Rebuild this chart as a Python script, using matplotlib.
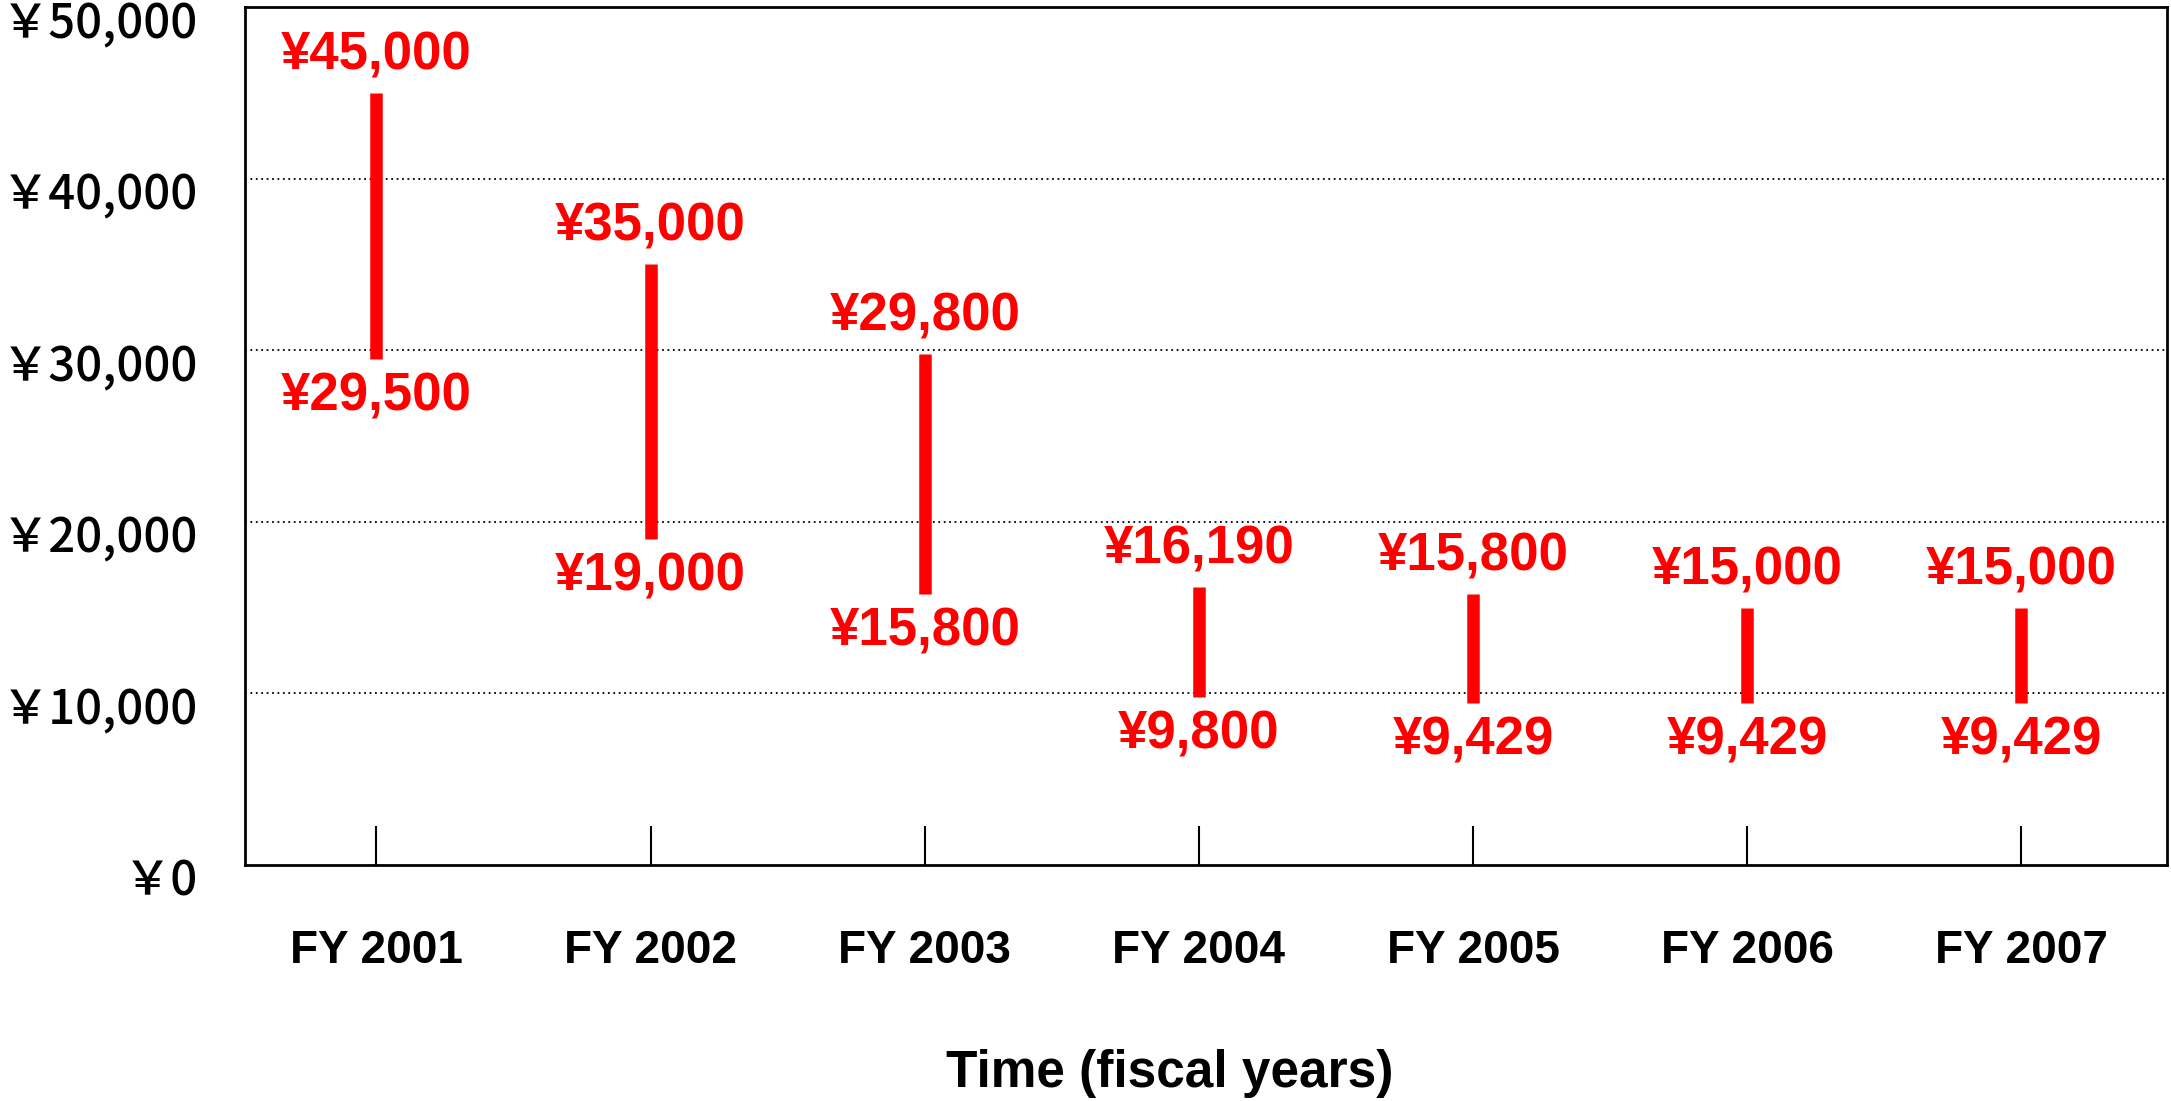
import matplotlib
matplotlib.use("Agg")
import matplotlib.pyplot as plt
from matplotlib.transforms import ScaledTranslation

# price range per fiscal year (yen)
years = ["FY 2001", "FY 2002", "FY 2003", "FY 2004", "FY 2005", "FY 2006", "FY 2007"]
high = [45000, 35000, 29800, 16190, 15800, 15000, 15000]
low = [29500, 19000, 15800, 9800, 9429, 9429, 9429]
yticks = [0, 10000, 20000, 30000, 40000, 50000]

fig = plt.figure(figsize=(21.71, 11.01), dpi=100)
ax = fig.add_axes([0.1128, 0.2144, 0.8852, 0.7792])

x = list(range(len(years)))

# dotted gridlines behind the bars
for g in yticks[1:-1]:
    ax.axhline(g, color="black", lw=1.3, ls=(0, (1, 2)), zorder=0)

ax.vlines(x, low, high, color="#ff0000", lw=9, zorder=3)

lab_font = dict(family="Liberation Sans", weight="bold", size=38, color="#ff0000")
for xi, h, l in zip(x, high, low):
    ax.annotate(f"¥{h:,}", (xi, h), xytext=(0, 27), textcoords="offset points",
                ha="center", va="center", **lab_font)
    ax.annotate(f"¥{l:,}", (xi, l), xytext=(0, -27), textcoords="offset points",
                ha="center", va="center", **lab_font)

ax.set_xlim(-0.48, 6.53)
ax.set_ylim(0, 50000)

ax.set_xticks(x)
ax.set_xticklabels(years, fontfamily="Liberation Sans", fontweight="bold", fontsize=33)
ax.tick_params(axis="x", direction="in", length=28, width=1.5, pad=46)

ax.set_yticks(yticks)
ax.set_yticklabels([f"￥{v:,}" for v in yticks],
                   fontfamily=["Noto Sans CJK JP", "DejaVu Sans"], fontweight="medium", fontsize=34)
ax.tick_params(axis="y", length=0, pad=34)
# excel puts the value labels a bit below the gridline
for t in ax.get_yticklabels():
    t.set_transform(t.get_transform() + ScaledTranslation(0, -0.12, fig.dpi_scale_trans))

for s in ax.spines.values():
    s.set_linewidth(2)
    s.set_color("black")

ax.set_xlabel("Time (fiscal years)", fontfamily="Liberation Sans", fontweight="bold", fontsize=37)
ax.xaxis.set_label_coords(0.481, -0.215)

fig.savefig("out.png", dpi=100)
